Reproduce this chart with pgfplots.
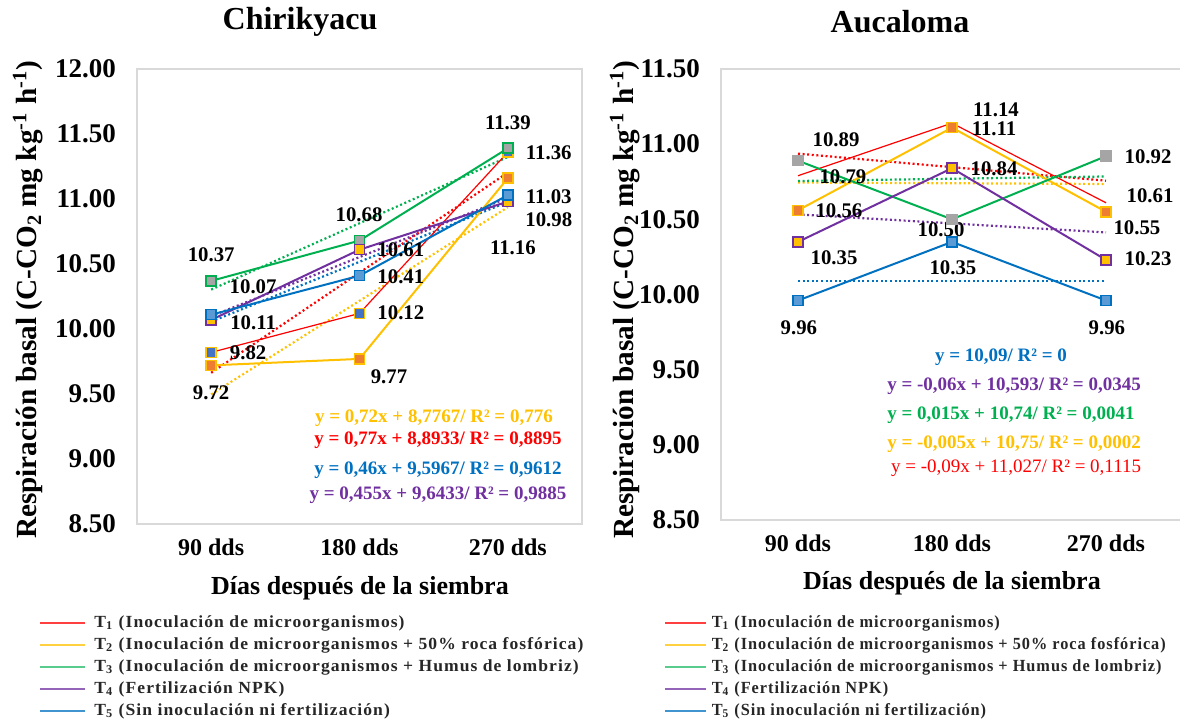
\documentclass[border=0pt]{standalone}
\usepackage{fontspec}
\setmainfont{Liberation Serif}
\newfontfamily\legfont[LetterSpace=6]{Liberation Serif}
\usepackage{graphicx}
\usepackage{pgfplots}
\pgfplotsset{compat=1.18}

\definecolor{cRed}{HTML}{FF0000}
\definecolor{cYel}{HTML}{FFC000}
\definecolor{cGre}{HTML}{00B050}
\definecolor{cPur}{HTML}{7030A0}
\definecolor{cBlu}{HTML}{0070C0}
\definecolor{mGray}{HTML}{A5A5A5}
\definecolor{mOra}{HTML}{ED7D31}
\definecolor{mBlu}{HTML}{5B9BD5}
\definecolor{mBlu2}{HTML}{4472C4}
\definecolor{frameC}{HTML}{D9D9D9}

\newcommand\legtxt{\legfont\bfseries\fontsize{8.5}{10}\selectfont}
\newcommand\LA{T\textsubscript{1} (Inoculación de microorganismos)}
\newcommand\LB{T\textsubscript{2} (Inoculación de microorganismos + 50\% roca fosfórica)}
\newcommand\LC{T\textsubscript{3} (Inoculación de microorganismos + Humus de lombriz)}
\newcommand\LD{T\textsubscript{4} (Fertilización NPK)}
\newcommand\LE{T\textsubscript{5} (Sin inoculación ni fertilización)}
\newlength\Lw

\tikzset{
  lab/.style={font=\bfseries\fontsize{10.4}{12}\selectfont, inner sep=0pt},
  eq/.style={font=\bfseries\fontsize{9.5}{11}\selectfont, inner sep=0pt},
  legt/.style={anchor=west, inner sep=0pt, text=black!85},
}
\pgfplotsset{
  base/.style={
    scale only axis, xmin=-0.5, xmax=2.5,
    xtick={0,1,2}, xticklabels={90 dds,180 dds,270 dds},
    major tick length=0pt,
    axis line style={frameC, line width=0.8pt},
    clip=false,
    /pgf/number format/assume math mode=true,
    yticklabel style={font=\bfseries\fontsize{13.5}{15}\selectfont, xshift=-7pt,
      /pgf/number format/fixed, /pgf/number format/fixed zerofill, /pgf/number format/precision=2},
    xticklabel style={font=\bfseries\fontsize{12}{14}\selectfont, yshift=-4pt},
  },
  ser/.style={line width=1pt},
  tr/.style={line width=1.1pt, dash pattern=on 1pt off 1.3pt},
  mk/.style 2 args={mark=square*, mark size=2.5pt, mark options={solid, fill=#1, draw=#2, line width=0.8pt}},
}

\begin{document}%
\settowidth\Lw{\legtxt\LB}%
\pgfmathsetmacro\facL{244.5/\Lw}%
\pgfmathsetmacro\facR{227/\Lw}%
\begin{tikzpicture}
\path[use as bounding box] (0pt,0pt) rectangle (590pt,362pt);

% ---------------- Left: Chirikyacu ----------------
\begin{axis}[base, at={(68.5pt,100pt)}, anchor=south west,
  width=222.5pt, height=227.5pt,
  ymin=8.5, ymax=12, ytick={8.5,9,9.5,10,10.5,11,11.5,12}]
% trend lines
\addplot[tr, cRed] coordinates {(0,9.6633) (2,11.2033)};
\addplot[tr, cYel] coordinates {(0,9.4967) (2,10.9367)};
\addplot[tr, cGre] coordinates {(0,10.3033) (2,11.3233)};
\addplot[tr, cPur] coordinates {(0,10.0983) (2,11.0083)};
\addplot[tr, cBlu] coordinates {(0,10.0567) (2,10.9767)};
% series
\addplot[ser, cRed, line width=0.6pt, mk={mBlu2}{cYel}] coordinates {(0,9.82) (1,10.12) (2,11.36)};
\addplot[ser, cYel, mk={mOra}{cYel}] coordinates {(0,9.72) (1,9.77) (2,11.16)};
\addplot[ser, cGre, mk={mGray}{cGre}] coordinates {(0,10.37) (1,10.68) (2,11.39)};
\addplot[ser, cPur, mk={cYel}{cPur}] coordinates {(0,10.07) (1,10.61) (2,10.98)};
\addplot[ser, cBlu, mk={mBlu}{cBlu}] coordinates {(0,10.11) (1,10.41) (2,11.03)};
% labels
\node[lab] at (axis cs:0,10.569) {10.37};
\node[lab] at (axis cs:0.283,10.323) {10.07};
\node[lab] at (axis cs:0.283,10.046) {10.11};
\node[lab] at (axis cs:0.249,9.815) {9.82};
\node[lab] at (axis cs:0,9.508) {9.72};
\node[lab] at (axis cs:0.997,10.877) {10.68};
\node[lab] at (axis cs:1.279,10.608) {10.61};
\node[lab] at (axis cs:1.279,10.40) {10.41};
\node[lab] at (axis cs:1.279,10.123) {10.12};
\node[lab] at (axis cs:1.199,9.631) {9.77};
\node[lab] at (axis cs:2.0,11.585) {11.39};
\node[lab] at (axis cs:2.276,11.354) {11.36};
\node[lab] at (axis cs:2.276,11.015) {11.03};
\node[lab] at (axis cs:2.276,10.838) {10.98};
\node[lab] at (axis cs:2.034,10.623) {11.16};
% equations
\node[eq, text=cYel] at (axis cs:1.502,9.315) {y = 0,72x + 8,7767/ R² = 0,776};
\node[eq, text=cRed] at (axis cs:1.529,9.146) {y = 0,77x + 8,8933/ R² = 0,8895};
\node[eq, text=cBlu] at (axis cs:1.529,8.915) {y = 0,46x + 9,5967/ R² = 0,9612};
\node[eq, text=cPur] at (axis cs:1.529,8.723) {y = 0,455x + 9,6433/ R² = 0,9885};
\end{axis}

% ---------------- Right: Aucaloma ----------------
\begin{axis}[base, at={(360.5pt,102pt)}, anchor=south west,
  width=231pt, height=225.5pt,
  ymin=8.5, ymax=11.5, ytick={8.5,9,9.5,10,10.5,11,11.5}]
% trend lines
\addplot[tr, cRed] coordinates {(0,10.937) (2,10.757)};
\addplot[tr, cYel] coordinates {(0,10.745) (2,10.735)};
\addplot[tr, cGre] coordinates {(0,10.755) (2,10.785)};
\addplot[tr, cPur] coordinates {(0,10.533) (2,10.413)};
\addplot[tr, cBlu] coordinates {(0,10.09) (2,10.09)};
% series
\addplot[ser, cRed, line width=0.6pt, mark=none] coordinates {(0,10.79) (1,11.14) (2,10.61)};
\addplot[ser, cYel, mk={mOra}{cYel}] coordinates {(0,10.56) (1,11.11) (2,10.55)};
\addplot[ser, cGre, mk={mGray}{mGray}] coordinates {(0,10.89) (1,10.50) (2,10.92)};
\addplot[ser, cPur, mk={cYel}{cPur}] coordinates {(0,10.35) (1,10.84) (2,10.23)};
\addplot[ser, cBlu, mk={mBlu}{cBlu}] coordinates {(0,9.96) (1,10.35) (2,9.96)};
% labels
\node[lab] at (axis cs:1.286,11.227) {11.14};
\node[lab] at (axis cs:1.273,11.101) {11.11};
\node[lab] at (axis cs:0.247,11.028) {10.89};
\node[lab] at (axis cs:2.273,10.915) {10.92};
\node[lab] at (axis cs:0.292,10.781) {10.79};
\node[lab] at (axis cs:1.273,10.835) {10.84};
\node[lab] at (axis cs:2.286,10.655) {10.61};
\node[lab] at (axis cs:0.266,10.555) {10.56};
\node[lab] at (axis cs:0.929,10.429) {10.50};
\node[lab] at (axis cs:2.201,10.442) {10.55};
\node[lab] at (axis cs:0.234,10.243) {10.35};
\node[lab] at (axis cs:1.006,10.176) {10.35};
\node[lab] at (axis cs:2.273,10.236) {10.23};
\node[lab] at (axis cs:0.006,9.777) {9.96};
\node[lab] at (axis cs:2.006,9.777) {9.96};
% equations
\node[eq, text=cBlu] at (axis cs:1.318,9.584) {y = 10,09/ R² = 0};
\node[eq, text=cPur] at (axis cs:1.403,9.391) {y = -0,06x + 10,593/ R² = 0,0345};
\node[eq, text=cGre] at (axis cs:1.383,9.198) {y = 0,015x + 10,74/ R² = 0,0041};
\node[eq, text=cYel] at (axis cs:1.403,9.005) {y = -0,005x + 10,75/ R² = 0,0002};
\node[eq, font=\fontsize{9.5}{11}\selectfont, text=cRed] at (axis cs:1.416,8.845) {y = -0,09x + 11,027/ R² = 0,1115};
\end{axis}

% titles and axis labels
\node[font=\bfseries\fontsize{16}{19}\selectfont] at (150pt,351pt) {Chirikyacu};
\node[font=\bfseries\fontsize{16}{19}\selectfont] at (450pt,351pt) {Aucaloma};
\node[rotate=90, font=\bfseries\fontsize{14.6}{16}\selectfont] at (14pt,212pt)
  {Respiración basal (C-CO\textsubscript{2} mg kg\textsuperscript{-1} h\textsuperscript{-1})};
\node[rotate=90, font=\bfseries\fontsize{14.6}{16}\selectfont] at (312.5pt,212pt)
  {Respiración basal (C-CO\textsubscript{2} mg kg\textsuperscript{-1} h\textsuperscript{-1})};
\node[font=\bfseries\fontsize{13}{15}\selectfont] at (180pt,68pt) {Días después de la siembra};
\node[font=\bfseries\fontsize{13}{15}\selectfont] at (476pt,70.5pt) {Días después de la siembra};

% legends (key lines and texts)
\foreach \y/\c/\t in {50.5/cRed!75/\LA, 39.5/cYel!75/\LB, 28.5/cGre!65/\LC, 17.5/cPur!75/\LD, 6.5/cBlu!75/\LE}{
  \draw[\c, line width=1pt] (20pt,\y pt) -- (42.5pt,\y pt);
  \node[legt] at (47pt,\y pt) {\scalebox{\facL}[1]{\legtxt\t}};
  \draw[\c, line width=1pt] (332.5pt,\y pt) -- (353pt,\y pt);
  \node[legt] at (355.7pt,\y pt) {\scalebox{\facR}[1]{\legtxt\t}};
}
\end{tikzpicture}%
\end{document}
